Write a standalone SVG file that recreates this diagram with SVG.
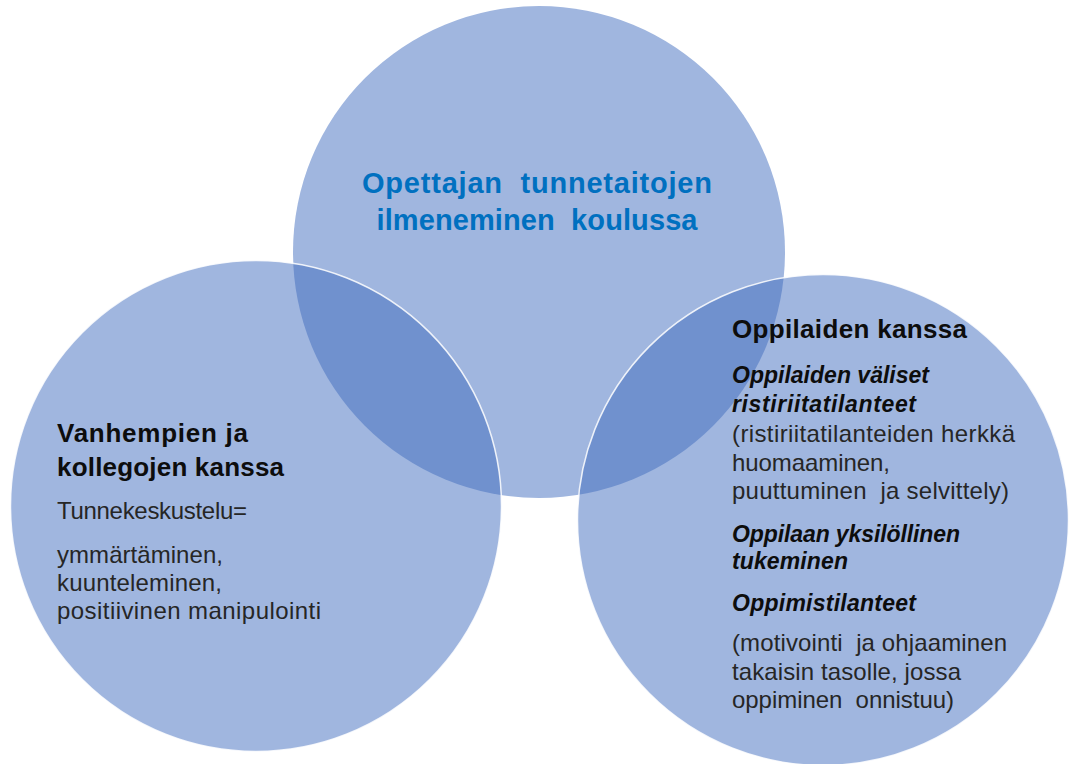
<svg xmlns="http://www.w3.org/2000/svg" width="1072" height="764" viewBox="0 0 1072 764">
  <style>
    .disc { fill: #A0B6DF; }
    .lens { fill: #7091CE; }
    .rim { fill: none; stroke: #FFFFFF; stroke-width: 1.5; stroke-opacity: 0.85; }
    text { font-family: "Liberation Sans", Arial, sans-serif; white-space: pre; }
    .title { font-size: 29px; font-weight: bold; fill: #0070C0; text-anchor: middle; }
    .head { font-size: 26px; font-weight: bold; fill: #0D0D0D; }
    .sub { font-size: 23px; font-weight: bold; font-style: italic; fill: #0D0D0D; }
    .body { font-size: 24px; fill: #262626; }
  </style>
  <defs>
    <clipPath id="clipTop">
      <circle cx="539" cy="252" r="246"/>
    </clipPath>
  </defs>

  <rect width="1072" height="764" fill="#FFFFFF"/>

  <!-- centre circle: teacher's emotional skills at school -->
  <g id="node-top">
    <circle class="disc" cx="539" cy="252" r="246"/>
  </g>

  <!-- left circle: parents and colleagues -->
  <g id="node-left">
    <circle class="disc" cx="256" cy="506" r="245.5"/>
  </g>

  <!-- right circle: pupils -->
  <g id="node-right">
    <circle class="disc" cx="823" cy="520" r="245.5"/>
  </g>

  <!-- overlap areas and circle rims -->
  <g id="connectors">
    <g clip-path="url(#clipTop)">
      <circle class="lens" cx="256" cy="506" r="245.5"/>
      <circle class="lens" cx="823" cy="520" r="245.5"/>
    </g>
    <circle class="rim" cx="256" cy="506" r="245.5"/>
    <circle class="rim" cx="823" cy="520" r="245.5"/>
  </g>

  <g id="label-top">
    <text class="title" x="537" y="193" textLength="350" xml:space="preserve">Opettajan  tunnetaitojen</text>
    <text class="title" x="537" y="230" textLength="321" xml:space="preserve">ilmeneminen  koulussa</text>
  </g>

  <g id="label-left">
    <text class="head" x="57" y="442" textLength="191">Vanhempien ja</text>
    <text class="head" x="57" y="476" textLength="227">kollegojen kanssa</text>
    <text class="body" x="57" y="519" textLength="190">Tunnekeskustelu=</text>
    <text class="body" x="57" y="563" textLength="166">ymmärtäminen,</text>
    <text class="body" x="57" y="591" textLength="165">kuunteleminen,</text>
    <text class="body" x="57" y="619" textLength="264">positiivinen manipulointi</text>
  </g>

  <g id="label-right">
    <text class="head" x="732" y="338" textLength="235">Oppilaiden kanssa</text>
    <text class="sub" x="732" y="383" textLength="197">Oppilaiden väliset</text>
    <text class="sub" x="732" y="412" textLength="184">ristiriitatilanteet</text>
    <text class="body" x="732" y="442" textLength="283">(ristiriitatilanteiden herkkä</text>
    <text class="body" x="732" y="471" textLength="158">huomaaminen,</text>
    <text class="body" x="732" y="499" textLength="277" xml:space="preserve">puuttuminen  ja selvittely)</text>
    <text class="sub" x="732" y="542" textLength="228">Oppilaan yksilöllinen</text>
    <text class="sub" x="732" y="569" textLength="116">tukeminen</text>
    <text class="sub" x="732" y="611" textLength="184">Oppimistilanteet</text>
    <text class="body" x="732" y="651" textLength="275" xml:space="preserve">(motivointi  ja ohjaaminen</text>
    <text class="body" x="732" y="680" textLength="229">takaisin tasolle, jossa</text>
    <text class="body" x="732" y="708" textLength="222" xml:space="preserve">oppiminen  onnistuu)</text>
  </g>
</svg>
